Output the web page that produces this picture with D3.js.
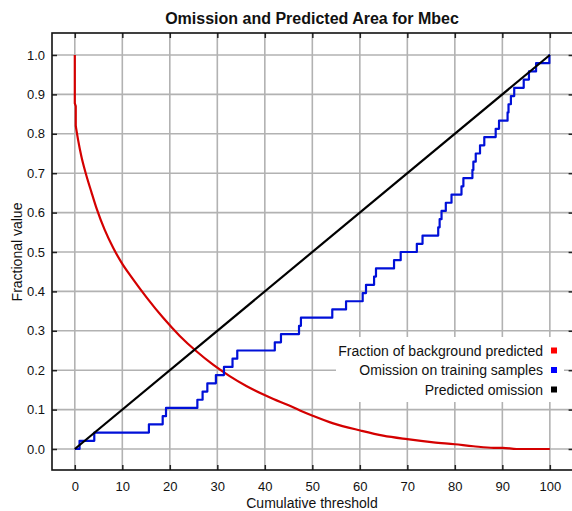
<!DOCTYPE html>
<html>
<head>
<meta charset="utf-8">
<script src="https://cdn.jsdelivr.net/npm/d3@7"></script>
<style>
  html, body { margin: 0; padding: 0; background: #fff; }
  svg { display: block; font-family: "Liberation Sans", Arial, sans-serif; }
</style>
</head>
<body>
<div id="chart"></div>
<script>
// ---- data ----
const titleText = "Omission and Predicted Area for Mbec";
const xLabelText = "Cumulative threshold";
const yLabelText = "Fractional value";
const xTicks = [0, 10, 20, 30, 40, 50, 60, 70, 80, 90, 100];
const yTicks = [0, 0.1, 0.2, 0.3, 0.4, 0.5, 0.6, 0.7, 0.8, 0.9, 1.0];
const seriesNames = ["Fraction of background predicted", "Omission on training samples", "Predicted omission"];
const seriesColors = ["#d40000", "#0010d8", "#000000"];
const markerColors = ["#ff0000", "#0000ff", "#000000"];

// Fraction of background predicted (threshold, value)
const bgThreshold = [0, 0, 0.2, 0.2, 0.7, 1.4, 2.3, 3.5, 4.6, 6.3, 8.1, 10, 11.9, 15.1, 18.6, 22.1, 25.6, 29.1, 32.6, 36.1, 39.6, 41.8, 45, 47.4, 50.2, 54.4, 60.1, 64.9, 70, 75.5, 80, 83.9, 88.2, 90.1, 93, 100];
const bgValue     = [1.0, 0.877, 0.87, 0.82, 0.784, 0.742, 0.70, 0.652, 0.61, 0.556, 0.51, 0.47, 0.437, 0.385, 0.333, 0.287, 0.248, 0.214, 0.185, 0.160, 0.139, 0.127, 0.111, 0.098, 0.084, 0.065, 0.047, 0.034, 0.025, 0.017, 0.012, 0.007, 0.003, 0.003, 0.0, 0.0];

// Omission on training samples: threshold where omission steps up, and omission value
const omThreshold = [0, 1.0, 4.1, 15.6, 18.5, 19.2, 25.8, 26.9, 27.9, 29.7, 31.4, 33.2, 34.2, 42.1, 43.4, 47.2, 47.6, 54.2, 57.1, 60.6, 61.3, 63.0, 63.4, 67.2, 68.6, 72.0, 73.2, 76.5, 76.8, 77.2, 78.1, 79.3, 81.4, 81.8, 83.7, 83.9, 84.4, 85.3, 86.2, 88.6, 89.3, 91.1, 91.3, 91.8, 92.5, 94.5, 95.6, 97.1, 99.9, 100];
const omValue     = [0, 0.0208, 0.0417, 0.0625, 0.0833, 0.1042, 0.125, 0.1458, 0.1667, 0.1875, 0.2083, 0.2292, 0.25, 0.2708, 0.2917, 0.3125, 0.3333, 0.3542, 0.375, 0.3958, 0.4167, 0.4375, 0.4583, 0.4792, 0.5, 0.5208, 0.5417, 0.5625, 0.5833, 0.6042, 0.625, 0.6458, 0.6667, 0.6875, 0.7083, 0.7292, 0.75, 0.7708, 0.7917, 0.8125, 0.8333, 0.8542, 0.875, 0.8958, 0.9167, 0.9375, 0.9583, 0.9792, 1.0, 1.0];

// Predicted omission
const predThreshold = [0, 100];
const predValue = [0, 1];

// ---- layout ----
const W = 572, H = 511;
const frame = { left: 52, top: 33, right: 573.6, bottom: 470 };

const svg = d3.select("#chart").append("svg").attr("width", W).attr("height", H);
svg.append("rect").attr("width", W).attr("height", H).attr("fill", "#fff");

const x = d3.scaleLinear().domain([-4.8, 105]).range([frame.left, frame.right]);
const y = d3.scaleLinear().domain([-0.0533, 1.0558]).range([frame.bottom, frame.top]);

// grid
const grid = svg.append("g").attr("stroke", "#b2b2b2").attr("stroke-width", 1.6);
grid.selectAll("line.gx").data(xTicks).join("line")
  .attr("x1", d => x(d)).attr("x2", d => x(d))
  .attr("y1", frame.top).attr("y2", frame.bottom);
grid.selectAll("line.gy").data(yTicks).join("line")
  .attr("y1", d => y(d)).attr("y2", d => y(d))
  .attr("x1", frame.left).attr("x2", frame.right);

// axes with inward ticks
const fmtY = d3.format(".1f");
const tickFont = "13px";
const axB = svg.append("g").attr("transform", `translate(0,${frame.bottom})`)
  .call(d3.axisBottom(x).tickValues(xTicks).tickSize(-5).tickPadding(12).tickFormat(d3.format("d")));
const axT = svg.append("g").attr("transform", `translate(0,${frame.top})`)
  .call(d3.axisTop(x).tickValues(xTicks).tickSize(-5).tickFormat(""));
const axL = svg.append("g").attr("transform", `translate(${frame.left},0)`)
  .call(d3.axisLeft(y).tickValues(yTicks).tickSize(-5).tickPadding(7).tickFormat(fmtY));
const axR = svg.append("g").attr("transform", `translate(${frame.right},0)`)
  .call(d3.axisRight(y).tickValues(yTicks).tickSize(-5).tickFormat(""));
[axB, axT, axL, axR].forEach(a => {
  a.select(".domain").remove();
  a.selectAll(".tick line").attr("stroke", "#222").attr("stroke-width", 1.5);
  a.selectAll(".tick text").attr("fill", "#111").style("font-size", tickFont)
    .style("font-family", "'Liberation Sans', Arial, sans-serif");
});

// frame
svg.append("rect")
  .attr("x", frame.left).attr("y", frame.top)
  .attr("width", frame.right - frame.left).attr("height", frame.bottom - frame.top)
  .attr("fill", "none").attr("stroke", "#111").attr("stroke-width", 1.6);

// series
svg.append("clipPath").attr("id", "clip").append("rect")
  .attr("x", frame.left).attr("y", frame.top)
  .attr("width", frame.right - frame.left).attr("height", frame.bottom - frame.top);
const plot = svg.append("g").attr("clip-path", "url(#clip)");

const bgData = bgThreshold.map((t, i) => [t, bgValue[i]]);
const omData = omThreshold.map((t, i) => [t, omValue[i]]);
const predData = predThreshold.map((t, i) => [t, predValue[i]]);

const lineLin = d3.line().x(d => x(d[0])).y(d => y(d[1]));
const lineSmooth = d3.line().x(d => x(d[0])).y(d => y(d[1])).curve(d3.curveMonotoneX);
const lineStep = d3.line().x(d => x(d[0])).y(d => y(d[1])).curve(d3.curveStepAfter);

// vertical drop at threshold 0, then smooth decay
const bgHead = bgData.slice(0, 4);
const bgTail = bgData.slice(3);
const redG = plot.append("g").attr("fill", "none").attr("stroke", seriesColors[0])
  .attr("stroke-width", 2.2).attr("stroke-linejoin", "round");
redG.append("path").datum(bgHead).attr("d", lineLin);
redG.append("path").datum(bgTail).attr("d", lineSmooth);

plot.append("path").datum(omData).attr("d", lineStep)
  .attr("fill", "none").attr("stroke", seriesColors[1]).attr("stroke-width", 2.2).attr("stroke-linejoin", "round");
plot.append("path").datum(predData).attr("d", lineLin)
  .attr("fill", "none").attr("stroke", seriesColors[2]).attr("stroke-width", 2.2);

// legend
const lg = svg.append("g");
lg.append("rect").attr("x", 336).attr("y", 337).attr("width", 228).attr("height", 65).attr("fill", "#fff");
const rowY = [350.5, 370, 389.5];
seriesNames.forEach((name, i) => {
  lg.append("text").attr("x", 543).attr("y", rowY[i]).attr("dy", "0.36em")
    .attr("text-anchor", "end").style("font-size", "14px").attr("fill", "#111").text(name);
  lg.append("rect").attr("x", 551).attr("y", rowY[i] - 3).attr("width", 6).attr("height", 6)
    .attr("fill", markerColors[i]);
});

// titles
svg.append("text").attr("x", 312).attr("y", 24).attr("text-anchor", "middle")
  .style("font-size", "16px").style("font-weight", "bold").attr("fill", "#111").text(titleText);
svg.append("text").attr("x", 312).attr("y", 508).attr("text-anchor", "middle")
  .style("font-size", "14px").attr("fill", "#111").text(xLabelText);
svg.append("text").attr("transform", `translate(22,252) rotate(-90)`).attr("text-anchor", "middle")
  .style("font-size", "14px").attr("fill", "#111").text(yLabelText);
</script>
</body>
</html>
